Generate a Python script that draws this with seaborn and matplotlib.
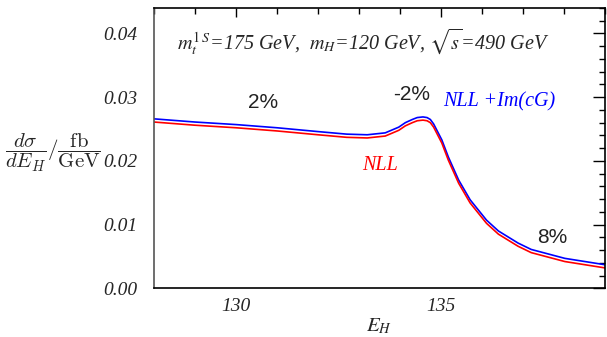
import matplotlib
matplotlib.use("Agg")
import matplotlib.pyplot as plt
from matplotlib.ticker import MultipleLocator
import pandas as pd
import seaborn as sns

# values
e_h = [128, 129, 130, 131, 132, 132.7, 133.2, 133.64, 133.97, 134.13, 134.3,
       134.42, 134.56, 134.66, 134.74, 134.82, 134.9, 135.02, 135.18, 135.43,
       135.71, 136.11, 136.4, 136.88, 137.2, 138.02, 139]
nll_imcg = [0.0266, 0.0261, 0.0257, 0.0252, 0.0246, 0.0242, 0.0241, 0.0244,
            0.0253, 0.0260, 0.0265, 0.0268, 0.0269, 0.0268, 0.0265, 0.0258,
            0.0248, 0.0233, 0.0206, 0.0170, 0.0139, 0.0107, 0.0090, 0.0071,
            0.0061, 0.0047, 0.0037]
nll = [0.0261, 0.0256, 0.0252, 0.0247, 0.0241, 0.0237, 0.0236, 0.0239,
       0.0248, 0.0255, 0.0260, 0.0263, 0.0264, 0.0263, 0.0260, 0.0253,
       0.0243, 0.0228, 0.0201, 0.0165, 0.0134, 0.0102, 0.0085, 0.0066,
       0.0056, 0.0042, 0.0032]
series_names = ["NLL +Im(cG)", "NLL"]
series_colors = ["blue", "red"]

df = pd.concat([
    pd.DataFrame({"E_H": e_h, "rate": nll_imcg, "curve": series_names[0]}),
    pd.DataFrame({"E_H": e_h, "rate": nll, "curve": series_names[1]}),
])

sns.set_style("white")
plt.rcParams["mathtext.fontset"] = "stix"
plt.rcParams["font.family"] = ["Liberation Serif", "DejaVu Serif"]

fig = plt.figure(figsize=(6.07, 3.37), dpi=100)
ax = fig.add_axes([154 / 607, 48.7 / 337, 451 / 607, 280.3 / 337])

sns.lineplot(data=df, x="E_H", y="rate", hue="curve",
             palette=dict(zip(series_names, series_colors)),
             linewidth=1.2, legend=False, ax=ax, sort=False)

ax.set_xlim(128, 139)
ax.set_ylim(0, 0.044)
ax.xaxis.set_major_locator(MultipleLocator(5))
ax.xaxis.set_minor_locator(MultipleLocator(1))
ax.yaxis.set_major_locator(MultipleLocator(0.01))
ax.yaxis.set_minor_locator(MultipleLocator(0.002))
ax.yaxis.set_major_formatter(lambda v, p: f"{v:.2f}")

ax.tick_params(axis="both", which="both", direction="in", top=True,
               right=True, color="black", width=1.0)
ax.tick_params(axis="x", which="major", length=6.5, pad=7)
ax.tick_params(axis="y", which="major", length=8.5, pad=12)
ax.tick_params(axis="both", which="minor", length=4)
for lab in ax.get_xticklabels() + ax.get_yticklabels():
    lab.set_fontstyle("italic")
    lab.set_fontsize(14)
for sp in ax.spines.values():
    sp.set_color("black")
    sp.set_linewidth(1.2)
ax.spines["left"].set_color("#555555")

ax.set_xlabel(r"$E_H$", fontsize=15, labelpad=1)
ax.set_ylabel("")

fig.text(5 / 607, 1 - 153 / 337,
         r"$\dfrac{d\sigma}{dE_H}/\dfrac{\rm fb}{\rm GeV}$",
         fontsize=15, ha="left", va="center", math_fontfamily="cm")

ax.text(128.56, 0.0387,
        r"$m_t^{\mathit{1\,S}}$=175 GeV,  $m_H$=120 GeV, $\sqrt{s}$=490 GeV",
        fontsize=14.5, style="italic", ha="left", va="center")
ax.text(135.06, 0.0293, "NLL +Im(cG)", color="blue", fontsize=14.5,
        style="italic", ha="left", va="center")
ax.text(133.51, 0.0193, "NLL", color="red", fontsize=14.5,
        style="italic", ha="center", va="center")

pct = dict(fontsize=15, ha="center", va="center", color="#222222",
           family=["Liberation Sans", "DejaVu Sans"])
ax.text(130.65, 0.0291, "2%", **pct)
ax.text(134.29, 0.0305, "-2%", **pct)
ax.text(137.71, 0.0079, "8%", **pct)

fig.savefig("out.png", dpi=100)
